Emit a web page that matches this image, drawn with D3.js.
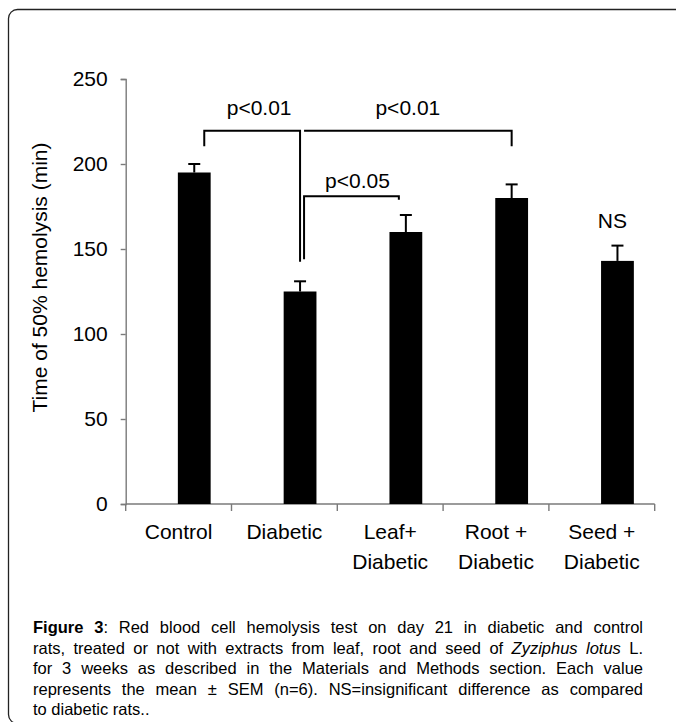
<!DOCTYPE html>
<html>
<head>
<meta charset="utf-8">
<script src="https://cdn.jsdelivr.net/npm/d3@7"></script>
<style>
  body { margin: 0; background: #fff; }
  svg { font-family: "Liberation Sans", Arial, sans-serif; }
</style>
</head>
<body>
<div id="container"></div>
<script>
// Datos
const categories = [['Control'], ['Diabetic'], ['Leaf+', 'Diabetic'], ['Root +', 'Diabetic'], ['Seed +', 'Diabetic']];
const means = [195, 125, 160, 180, 143];
const sems = [5, 6, 10, 8, 9];
const yTicks = [0, 50, 100, 150, 200, 250];

// Corchetes de significancia (valores en unidades del eje y)
const brackets = [
  { text: 'p<0.01', from: 0, to: 1, level: 219.5, fromEnd: 210.5, toEnd: 142.5, textAt: 229 },
  { text: 'p<0.01', from: 1, to: 3, level: 219.5, fromEnd: 219.5, toEnd: 210.5, textAt: 229 },
  { text: 'p<0.05', from: 1, to: 2, level: 181, fromEnd: 144, toEnd: 179, textAt: 186 }
];
const nsLabel = { text: 'NS', at: 4 };

// Texto de la leyenda: [texto, estilo, pegado a la palabra anterior]
const caption = [
  [['Figure 3', 'bold'], [':', '', true], ['Red blood cell hemolysis test on day 21 in diabetic and control', '']],
  [['rats, treated or not with extracts from leaf, root and seed of', ''], ['Zyziphus lotus', 'italic'], ['L.', '']],
  [['for 3 weeks as described in the Materials and Methods section. Each value', '']],
  [['represents the mean ± SEM (n=6). NS=insignificant difference as compared', '']],
  [['to diabetic rats..', '']]
];

const WIDTH = 676;
const HEIGHT = 722;
const FONT = 21;

const svg = d3.select('#container')
              .append('svg')
                .attr('width', WIDTH)
                .attr('height', HEIGHT);

// Marco redondeado
svg.append('rect')
   .attr('x', 8.5).attr('y', 9.5)
   .attr('width', 690).attr('height', 714)
   .attr('rx', 9)
   .attr('fill', 'none')
   .attr('stroke', '#222')
   .attr('stroke-width', 1.3);

const x = d3.scaleBand()
            .domain(d3.range(categories.length))
            .range([125.7, 654.7])
            .padding(0);

const y = d3.scaleLinear()
            .domain([0, 250])
            .range([504, 79]);

const bw = x.bandwidth();
const barLeft = i => x(i) + bw * 0.493;
const barW = bw * 0.31;
const barCenter = i => barLeft(i) + barW / 2;

// Eje y
const yAxis = svg.append('g')
   .attr('transform', `translate(${x.range()[0]},0)`)
   .call(d3.axisLeft(y).tickValues(yTicks).tickSize(5).tickSizeOuter(5).tickPadding(13));
yAxis.selectAll('path, line').attr('stroke', '#7a7a7a').attr('stroke-width', 1.4);
yAxis.selectAll('text').attr('font-size', FONT).attr('fill', '#000')
     .attr('font-family', '"Liberation Sans", Arial, sans-serif');

// Eje x: linea base y marcas entre categorias
const xAxis = svg.append('g');
xAxis.append('line')
     .attr('x1', x.range()[0]).attr('x2', x.range()[1])
     .attr('y1', y(0)).attr('y2', y(0))
     .attr('stroke', '#7a7a7a').attr('stroke-width', 1.4);
xAxis.selectAll('line.tick')
     .data(d3.range(categories.length + 1))
     .enter()
     .append('line')
       .attr('class', 'tick')
       .attr('x1', i => x.range()[0] + i * x.step())
       .attr('x2', i => x.range()[0] + i * x.step())
       .attr('y1', y(0)).attr('y2', y(0) + 7)
       .attr('stroke', '#7a7a7a').attr('stroke-width', 1.4);

xAxis.selectAll('text.cat')
     .data(categories)
     .enter()
     .append('text')
       .attr('class', 'cat')
       .attr('text-anchor', 'middle')
       .attr('font-size', FONT)
       .attr('x', (d, i) => x(i) + bw / 2)
       .attr('y', y(0) + 35)
     .selectAll('tspan')
     .data(d => d)
     .enter()
     .append('tspan')
       .attr('x', function () { return d3.select(this.parentNode).attr('x'); })
       .attr('dy', (d, i) => i ? 30 : 0)
       .text(d => d);

// Titulo del eje y
svg.append('text')
   .attr('transform', `translate(47,${(y(0) + y(250)) / 2 - 14}) rotate(-90)`)
   .attr('text-anchor', 'middle')
   .attr('font-size', FONT)
   .text('Time of 50% hemolysis (min)');

// Barras
svg.append('g')
   .selectAll('rect')
   .data(means)
   .enter()
   .append('rect')
     .attr('x', (d, i) => barLeft(i))
     .attr('y', d => y(d))
     .attr('width', barW)
     .attr('height', d => y(0) - y(d))
     .attr('fill', '#000');

// Barras de error (solo hacia arriba)
const err = svg.append('g').attr('stroke', '#000').attr('stroke-width', 2);
err.selectAll('line.v')
   .data(means)
   .enter()
   .append('line')
     .attr('x1', (d, i) => barCenter(i)).attr('x2', (d, i) => barCenter(i))
     .attr('y1', d => y(d)).attr('y2', (d, i) => y(d + sems[i]));
err.selectAll('line.cap')
   .data(means)
   .enter()
   .append('line')
     .attr('x1', (d, i) => barCenter(i) - 6).attr('x2', (d, i) => barCenter(i) + 6)
     .attr('y1', (d, i) => y(d + sems[i])).attr('y2', (d, i) => y(d + sems[i]));

// Corchetes
const nudge = [[10, 0], [4, 0], [4, -7]];
const labelShift = [7, 0, 6];
const br = svg.append('g');
br.selectAll('path')
  .data(brackets)
  .enter()
  .append('path')
    .attr('fill', 'none')
    .attr('stroke', '#000')
    .attr('stroke-width', 2)
    .attr('d', (b, k) => {
      const x1 = barCenter(b.from) + nudge[k][0];
      const x2 = barCenter(b.to) + nudge[k][1];
      return `M${x1},${y(b.fromEnd)}V${y(b.level)}H${x2}V${y(b.toEnd)}`;
    });
br.selectAll('text')
  .data(brackets)
  .enter()
  .append('text')
    .attr('text-anchor', 'middle')
    .attr('font-size', FONT)
    .attr('x', (b, k) => (barCenter(b.from) + nudge[k][0] + barCenter(b.to) + nudge[k][1]) / 2 + labelShift[k])
    .attr('y', b => y(b.textAt))
    .text(b => b.text);

svg.append('text')
   .attr('text-anchor', 'middle')
   .attr('font-size', FONT)
   .attr('x', barCenter(nsLabel.at) - 5)
   .attr('y', y(means[nsLabel.at] + sems[nsLabel.at]) - 18)
   .text(nsLabel.text);

// Leyenda de la figura, justificada
const capLeft = 33, capRight = 643, capTop = 633, capStep = 20.5, capSize = 16.5;
caption.forEach((line, li) => {
  // separa en palabras, conservando el estilo
  const words = [];
  line.forEach(([txt, style, glue]) => {
    txt.split(' ').filter(w => w.length)
       .forEach((w, j) => words.push({ t: w, s: style, glue: glue && j === 0 }));
  });
  const g = svg.append('g').attr('font-size', capSize);
  const nodes = words.map(w => g.append('text')
                                .attr('y', capTop + li * capStep)
                                .attr('font-weight', w.s === 'bold' ? 'bold' : null)
                                .attr('font-style', w.s === 'italic' ? 'italic' : null)
                                .text(w.t));
  const widths = nodes.map(n => n.node().getComputedTextLength());
  const gaps = words.filter((w, i) => i > 0 && !w.glue).length;
  const total = d3.sum(widths);
  const last = li === caption.length - 1;
  const gap = last ? capSize * 0.278 : (capRight - capLeft - total) / gaps;
  let cx = capLeft;
  nodes.forEach((n, i) => {
    if (i > 0 && !words[i].glue) cx += gap;
    n.attr('x', cx);
    cx += widths[i];
  });
});
</script>
</body>
</html>
